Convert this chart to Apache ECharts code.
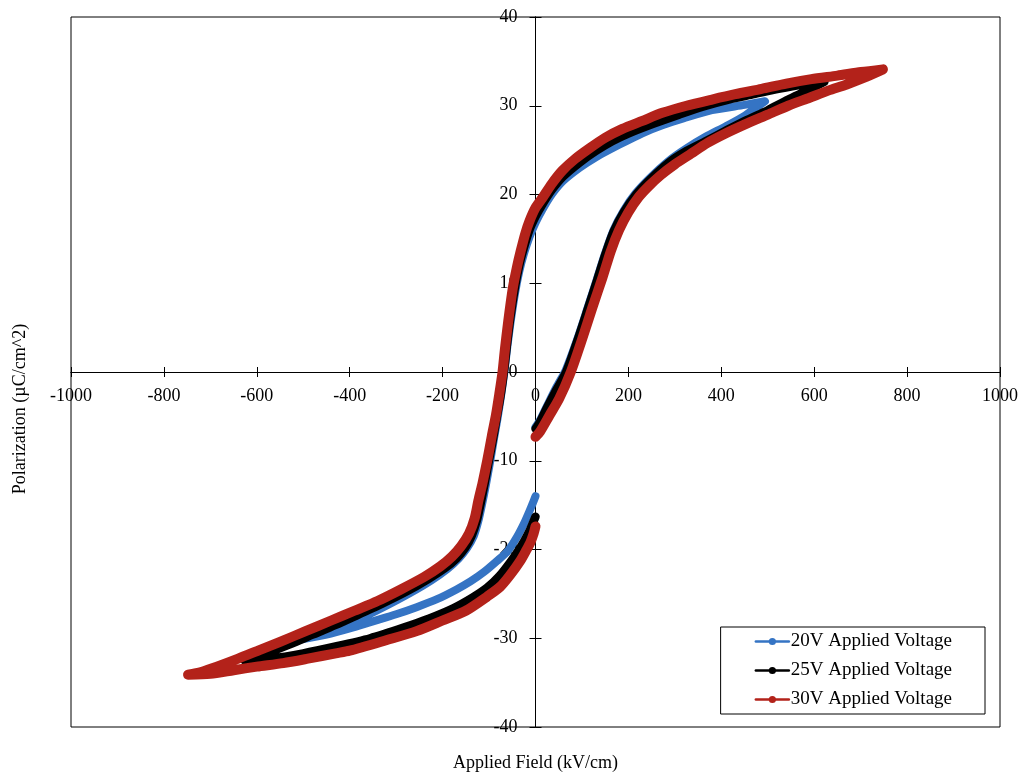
<!DOCTYPE html>
<html>
<head>
<meta charset="utf-8">
<script src="https://cdn.jsdelivr.net/npm/echarts@6/dist/echarts.min.js"></script>
<style>
  html, body { margin: 0; padding: 0; background: #fff; }
  #chart { width: 1026px; height: 775px; }
</style>
</head>
<body>
<div id="chart"></div>
<script>
// ---- Data ----
const seriesNames = ['20V Applied Voltage', '25V Applied Voltage', '30V Applied Voltage'];

// 20V loop: applied field (kV/cm) and polarization (uC/cm^2)
const field20 = [0, 10, 25, 45, 65, 90, 112, 133, 150, 168, 190, 215, 245, 287, 325, 366, 410, 451, 494,
  450, 380, 320, 273, 230, 180, 130, 95, 59, 35, 15, 0, -13, -25, -35, -44, -54, -61, -67, -74, -81, -89, -98, -107, -115, -123, -133, -148, -165, -190, -225, -270, -320, -370, -420, -460, -500,
  -450, -400, -350, -300, -256, -212, -170, -140, -110, -83, -60, -40, -25, -14, -6, 0];
const pol20 = [-6.2, -5.4, -3.8, -1.7, 0.2, 3.7, 7.2, 10.6, 13.4, 16.0, 18.2, 20.1, 21.8, 23.8, 25.2, 26.5, 27.7, 28.9, 30.5,
  30.1, 29.5, 28.6, 27.8, 26.9, 25.6, 24.2, 23.0, 21.5, 20.0, 18.3, 16.8, 15.2, 13.3, 11.3, 8.9, 5.5, 2.7, 0, -2.6, -5.0, -7.4, -10.2, -12.8, -14.9, -16.8, -18.5, -19.9, -21.0, -22.2, -23.5, -24.9, -26.3, -27.6, -28.8, -29.5, -30.1,
  -29.6, -28.9, -28.1, -27.3, -26.5, -25.6, -24.5, -23.6, -22.5, -21.3, -20.2, -18.6, -17.1, -15.8, -14.8, -14.0];

// 25V loop
const field25 = [0, 10, 25, 45, 66, 90, 112, 133, 150, 168, 190, 215, 245, 287, 325, 366, 410, 451, 500, 544, 585, 622,
  575, 523, 470, 416, 360, 309, 255, 201, 165, 130, 95, 59, 35, 15, 0, -13, -25, -35, -45, -55, -62, -68, -75, -83, -91, -101, -110, -118, -126, -137, -151, -170, -195, -230, -280, -330, -380, -430, -480, -530, -580, -626,
  -572, -500, -428, -356, -284, -230, -176, -135, -104, -78, -54, -38, -25, -12, 0];
const pol25 = [-6.4, -5.6, -4.0, -2.0, 0, 3.5, 7.0, 10.4, 13.2, 15.8, 18.0, 19.9, 21.6, 23.6, 24.9, 26.0, 27.2, 28.3, 29.5, 30.7, 31.7, 32.7,
  32.4, 31.9, 31.3, 30.7, 29.9, 29.0, 28.0, 26.9, 26.0, 24.9, 23.6, 22.0, 20.5, 18.9, 17.5, 16.0, 14.0, 12.0, 9.3, 5.8, 2.8, 0, -2.6, -5.0, -7.4, -10.2, -12.7, -14.8, -16.7, -18.4, -19.8, -21.0, -22.1, -23.3, -24.8, -26.1, -27.3, -28.5, -29.6, -30.7, -31.7, -32.5,
  -32.3, -31.7, -30.9, -30.0, -28.8, -27.8, -26.6, -25.4, -24.3, -23.0, -21.4, -20.2, -19.1, -17.8, -16.3];

// 30V loop
const field30 = [0, 10, 30, 51, 76, 101, 122, 144, 162, 180, 200, 222, 245, 270, 300, 335, 370, 410, 451, 500, 544, 590, 630, 670, 705, 748,
  701, 650, 594, 540, 487, 430, 380, 325, 273, 230, 187, 150, 116, 85, 58, 35, 16, 0, -13, -22, -32, -40, -49, -59, -66, -71, -78, -85, -94, -104, -114, -123, -131, -143, -160, -180, -205, -240, -290, -340, -390, -440, -495, -550, -593, -640, -686, -720, -748,
  -700, -650, -600, -543, -490, -430, -400, -320, -256, -200, -150, -104, -76, -55, -33, -20, -11, -4, 0];
const pol30 = [-7.3, -6.7, -4.9, -3.0, 0, 3.8, 7.2, 10.6, 13.6, 16.0, 18.0, 19.7, 21.0, 22.2, 23.4, 24.6, 25.8, 26.9, 27.9, 29.0, 30.0, 30.9, 31.7, 32.4, 33.1, 34.1,
  33.8, 33.4, 33.0, 32.5, 31.9, 31.3, 30.7, 30.0, 29.2, 28.3, 27.4, 26.4, 25.2, 24.0, 22.7, 21.2, 19.7, 18.5, 17.0, 15.6, 13.6, 11.8, 9.4, 5.6, 2.5, 0, -2.5, -4.8, -7.2, -10.0, -12.5, -14.5, -16.5, -18.2, -19.6, -20.8, -21.9, -23.1, -24.5, -25.8, -26.9, -28.0, -29.2, -30.4, -31.3, -32.3, -33.2, -33.8, -34.1,
  -34.0, -33.6, -33.2, -32.8, -32.3, -31.7, -31.4, -30.2, -29.2, -28.0, -26.9, -25.3, -24.2, -22.9, -21.3, -20.1, -19.2, -18.2, -17.4];

const xTicks = { min: -1000, max: 1000, step: 200 };
const yTicks = { min: -40, max: 40, step: 10 };

// ---- Chart ----
const pair = (xs, ys) => xs.map((x, i) => [x, ys[i]]);
const FONT = "'Liberation Serif', 'Times New Roman', serif";
const colors = ['#3574c4', '#000000', '#b3221a'];
const widths = [8, 8.5, 10];
const allData = [pair(field20, pol20), pair(field25, pol25), pair(field30, pol30)];

// grid box in pixels
const G = { left: 71, right: 26, top: 17, bottom: 48, w: 1026, h: 775 };
const plotW = G.w - G.left - G.right;
const plotH = G.h - G.top - G.bottom;
// offsets that move the axes from the grid edges onto the zero lines
const xZeroOffset = -plotH * (0 - yTicks.min) / (yTicks.max - yTicks.min);   // bottom axis moved up
const yZeroOffset = -plotW * (0 - xTicks.min) / (xTicks.max - xTicks.min);   // left axis moved right

const chart = echarts.init(document.getElementById('chart'), null, { renderer: 'canvas' });

const baseAxis = (isX, inside, withLabels) => ({
  type: 'value',
  min: isX ? xTicks.min : yTicks.min,
  max: isX ? xTicks.max : yTicks.max,
  interval: isX ? xTicks.step : yTicks.step,
  position: isX ? 'bottom' : 'left',
  offset: isX ? xZeroOffset : yZeroOffset,
  axisLine: { show: true, onZero: false, lineStyle: { color: '#000', width: 1 } },
  axisTick: { show: true, inside: inside, length: isX ? 5 : 6, lineStyle: { color: '#000', width: 1 } },
  axisLabel: {
    show: withLabels,
    color: '#000',
    fontFamily: FONT,
    fontSize: 18,
    margin: isX ? 15 : 18,
    showMinLabel: true,
    showMaxLabel: true,
    hideOverlap: false,
    formatter: (v) => String(v)
  },
  splitLine: { show: false }
});

const xMain = Object.assign(baseAxis(true, false, true), {
  name: 'Applied Field (kV/cm)',
  nameLocation: 'middle',
  nameGap: 382,
  nameTextStyle: { color: '#000', fontFamily: FONT, fontSize: 18 }
});
const yMain = Object.assign(baseAxis(false, false, true), {
  name: 'Polarization (\u00b5C/cm^2)',
  nameLocation: 'middle',
  nameGap: 506,
  nameTextStyle: { color: '#000', fontFamily: FONT, fontSize: 18, padding: [0, 74, 0, 0] }
});
const xInner = baseAxis(true, true, false);
const yInner = baseAxis(false, true, false);

chart.setOption({
  animation: false,
  backgroundColor: '#fff',
  grid: {
    left: G.left, right: G.right, top: G.top, bottom: G.bottom,
    containLabel: false,
    outerBoundsMode: 'none',
    show: true, borderColor: '#000', borderWidth: 1, backgroundColor: 'transparent'
  },
  xAxis: [xMain, xInner],
  yAxis: [yMain, yInner],
  legend: {
    data: seriesNames,
    orient: 'vertical',
    right: 41,
    bottom: 61,
    padding: [5, 33, 5, 34],
    itemGap: 10,
    itemWidth: 33,
    itemHeight: 9,
    backgroundColor: '#fff',
    borderColor: '#000',
    borderWidth: 1,
    lineStyle: { width: 2.5 },
    textStyle: { color: '#000', fontFamily: FONT, fontSize: 19, padding: [0, 0, 0, -3] }
  },
  series: seriesNames.map((name, i) => ({
    name: name,
    type: 'line',
    xAxisIndex: 0,
    yAxisIndex: 0,
    data: allData[i],
    smooth: 0.25,
    symbol: 'circle',
    symbolSize: 8,
    showSymbol: false,
    color: colors[i],
    itemStyle: { color: colors[i] },
    lineStyle: { color: colors[i], width: widths[i], cap: 'round', join: 'round' },
    emphasis: { disabled: true },
    z: 2 + i
  }))
});
</script>
</body>
</html>
